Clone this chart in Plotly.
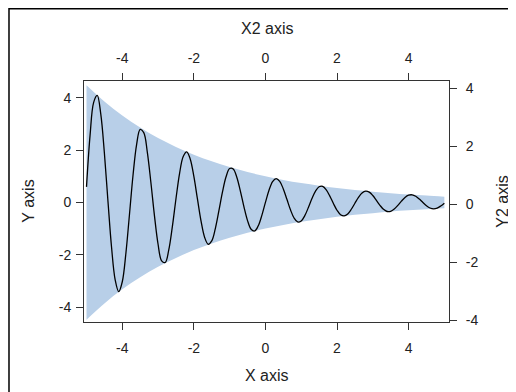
import plotly.graph_objects as go

# curve samples (x step 0.1 from -5 to 5)
x_curve = [round(-5 + 0.1 * i, 1) for i in range(101)]
y_curve = [
    0.593, 2.572, 3.822, 4.088, 3.364, 1.879, 0.033, -1.714, -2.950, -3.410,
    -3.031, -1.951, -0.469, 1.039, 2.211, 2.788, 2.666, 1.916, 0.752, -0.523,
    -1.599, -2.231, -2.295, -1.807, -0.917, 0.140, 1.102, 1.745, 1.935, 1.652,
    0.991, 0.133, -0.707, -1.330, -1.599, -1.471, -1.000, -0.318, 0.400, 0.981,
    1.294, 1.281, 0.962, 0.433, -0.169, -0.695, -1.025, -1.091, -0.894, -0.494,
    0.000, 0.465, 0.793, 0.912, 0.806, 0.515, 0.118, -0.284, -0.595, -0.746,
    -0.710, -0.507, -0.195, 0.146, 0.432, 0.598, 0.612, 0.480, 0.240, -0.042,
    -0.299, -0.469, -0.517, -0.439, -0.261, -0.031, 0.193, 0.358, 0.428, 0.392,
    0.264, 0.081, -0.110, -0.265, -0.347, -0.341, -0.255, -0.113, 0.048, 0.188,
    0.275, 0.291, 0.237, 0.130, -0.002, -0.126, -0.213, -0.244, -0.215, -0.136,
    -0.030,
]

# envelope (x step 0.5)
x_env = [-5, -4.5, -4, -3.5, -3, -2.5, -2, -1.5, -1, -0.5, 0,
         0.5, 1, 1.5, 2, 2.5, 3, 3.5, 4, 4.5, 5]
env_upper = [4.48, 3.86, 3.32, 2.86, 2.46, 2.12, 1.82, 1.57, 1.35, 1.16, 1.00,
             0.86, 0.74, 0.64, 0.55, 0.47, 0.41, 0.35, 0.30, 0.26, 0.22]
env_lower = [-v for v in env_upper]

x_ticks = [-4, -2, 0, 2, 4]
x_tick_labels = ["-4", "-2", "0", "2", "4"]
y_ticks = [-4, -2, 0, 2, 4]
y_tick_labels = ["-4", "-2", "0", "2", "4"]

FONT = "Liberation Sans, Arial, sans-serif"
TXT = "#222222"
BAND = "#b8cfe8"

fig = go.Figure()
fig.add_trace(go.Scatter(x=x_env, y=env_upper, mode="lines",
                         line=dict(width=0, shape="spline", color=BAND),
                         hoverinfo="skip", showlegend=False))
fig.add_trace(go.Scatter(x=x_env, y=env_lower, mode="lines", fill="tonexty",
                         fillcolor=BAND,
                         line=dict(width=0, shape="spline", color=BAND),
                         hoverinfo="skip", showlegend=False))
fig.add_trace(go.Scatter(x=x_curve, y=y_curve, mode="lines",
                         line=dict(color="black", width=1.3, shape="spline"),
                         showlegend=False))
# invisible trace so that the secondary (top / right) axes are drawn
fig.add_trace(go.Scatter(x=x_env, y=env_upper, mode="lines", xaxis="x2",
                         yaxis="y2", line=dict(width=0), opacity=0,
                         hoverinfo="skip", showlegend=False))

xr = [-5.07, 5.13]
axis_common = dict(showgrid=False, zeroline=False, ticks="outside", ticklen=7,
                   tickwidth=1, tickcolor="#333", linecolor="#333", linewidth=1,
                   tickfont=dict(family=FONT, size=14, color=TXT))

fig.update_layout(
    width=516, height=392,
    margin=dict(l=76, r=75, t=73, b=78, autoexpand=False),
    paper_bgcolor="white", plot_bgcolor="white",
    xaxis=dict(range=xr, tickvals=x_ticks, ticktext=x_tick_labels,
               showline=True, mirror=True, ticklabelstandoff=6,
               **axis_common),
    xaxis2=dict(range=xr, tickvals=x_ticks, ticktext=x_tick_labels,
                overlaying="x", side="top", showline=False, anchor="y",
                ticklabelstandoff=4, **axis_common),
    yaxis=dict(range=[-4.57, 4.64], tickvals=y_ticks, ticktext=y_tick_labels,
               showline=True, mirror=True, ticklabelstandoff=2,
               **axis_common),
    yaxis2=dict(range=[-4.06, 4.25], tickvals=y_ticks, ticktext=y_tick_labels,
                overlaying="y", side="right", showline=False, anchor="x",
                ticklabelstandoff=6,
                title=dict(text="Y2 axis", standoff=19,
                           font=dict(family=FONT, size=16, color=TXT)),
                **axis_common),
    annotations=[
        dict(text="X axis", x=0.5, y=-0.224, xref="paper", yref="paper",
             xanchor="center", yanchor="middle", showarrow=False,
             font=dict(family=FONT, size=16, color=TXT)),
        dict(text="X2 axis", x=0.5, y=1.216, xref="paper", yref="paper",
             xanchor="center", yanchor="middle", showarrow=False,
             font=dict(family=FONT, size=16, color=TXT)),
        dict(text="Y axis", x=-0.153, y=0.5, xref="paper", yref="paper",
             xanchor="center", yanchor="middle", textangle=-90,
             showarrow=False, font=dict(family=FONT, size=16, color=TXT)),
    ],
    shapes=[
        dict(type="rect", xref="paper", yref="paper",
             x0=-0.2055, x1=3, y0=-3, y1=1.3,
             line=dict(color="black", width=1.5), fillcolor="rgba(0,0,0,0)",
             layer="below"),
    ],
)

fig.write_html("out.html")
